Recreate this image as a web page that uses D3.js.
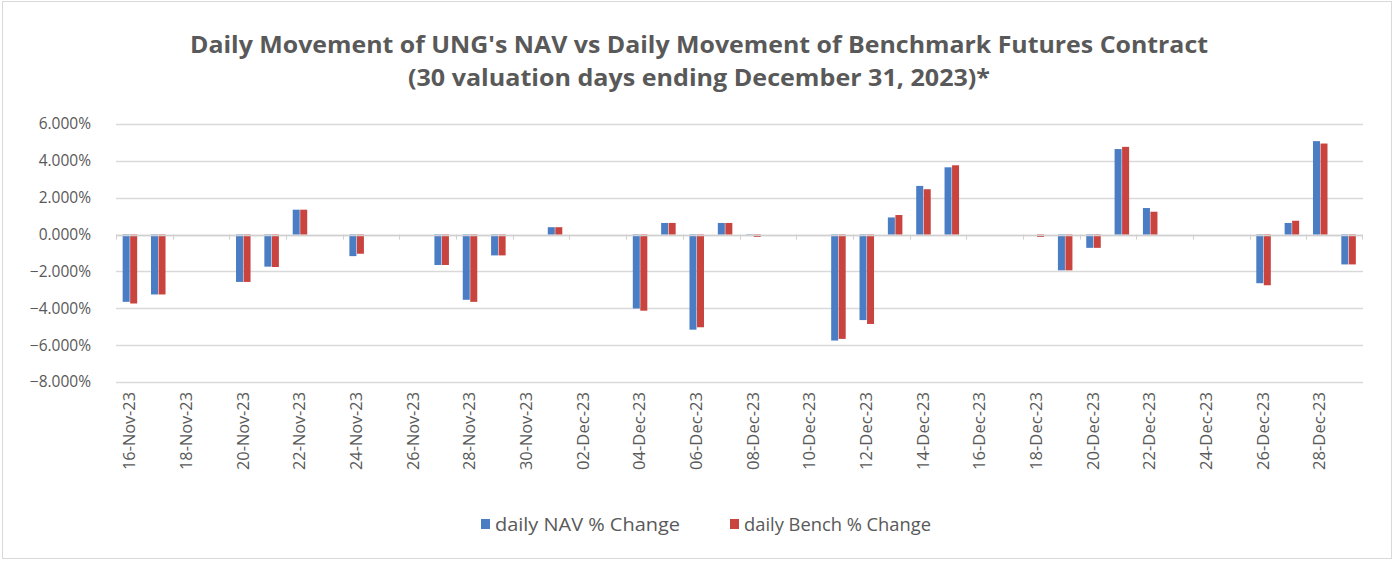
<!DOCTYPE html>
<html>
<head>
<meta charset="utf-8">
<script src="https://cdn.jsdelivr.net/npm/d3@7"></script>
<style>
  body { margin: 0; background: #fff; }
  svg { font-family: "Open Sans", "Liberation Sans", sans-serif; }
</style>
</head>
<body>
<svg></svg>
<script>
// trading days shown in the chart
const DATES = [
    '2023-11-16', '2023-11-17', '2023-11-20', '2023-11-21', '2023-11-22', '2023-11-24',
    '2023-11-27', '2023-11-28', '2023-11-29', '2023-11-30', '2023-12-01', '2023-12-04',
    '2023-12-05', '2023-12-06', '2023-12-07', '2023-12-08', '2023-12-11', '2023-12-12',
    '2023-12-13', '2023-12-14', '2023-12-15', '2023-12-18', '2023-12-19', '2023-12-20',
    '2023-12-21', '2023-12-22', '2023-12-26', '2023-12-27', '2023-12-28', '2023-12-29',
];
const NAV_CHANGE = [
    -3.65, -3.25, -2.57, -1.74, 1.35, -1.17,
    -1.65, -3.54, -1.13, 0.0, 0.40, -4.01,
    0.63, -5.16, 0.63, -0.02, -5.75, -4.64,
    0.93, 2.64, 3.65, 0.0, -1.94, -0.72,
    4.64, 1.44, -2.64, 0.63, 5.07, -1.62,
];
const BENCH_CHANGE = [
    -3.74, -3.25, -2.57, -1.76, 1.35, -1.04,
    -1.65, -3.65, -1.13, 0.0, 0.40, -4.13,
    0.63, -5.03, 0.63, -0.13, -5.66, -4.85,
    1.06, 2.46, 3.76, -0.13, -1.94, -0.72,
    4.76, 1.24, -2.75, 0.75, 4.94, -1.62,
];
const Y_TICKS = [-8, -6, -4, -2, 0, 2, 4, 6];
const SERIES = ['daily NAV % Change', 'daily Bench % Change'];
const COLORS = ['#4a7dc4', '#c9433f'];
const TITLE = [
    "Daily Movement of UNG's NAV vs Daily Movement of Benchmark Futures Contract",
    '(30 valuation days ending December 31, 2023)*',
];

const WIDTH = 1395;
const HEIGHT = 561;
const PLOT = { left: 116, right: 1363, top: 124, bottom: 382 };

const parse = d3.timeParse('%Y-%m-%d');
const fmt = d3.timeFormat('%d-%b-%y');

const rows = DATES.map((d, i) => ({ date: d, values: [NAV_CHANGE[i], BENCH_CHANGE[i]] }));

// Excel date axis: every calendar day gets a slot
const start = parse(DATES[0]);
const end = d3.timeDay.offset(parse(DATES[DATES.length - 1]), 1);
const allDays = d3.timeDay.range(start, end).map(d3.timeFormat('%Y-%m-%d'));

const x = d3.scaleBand().domain(allDays).range([PLOT.left, PLOT.right]);
const pairW = x.bandwidth() * 0.53;
const xSub = d3.scaleBand()
    .domain([0, 1])
    .range([(x.bandwidth() - pairW) / 2, (x.bandwidth() + pairW) / 2]);
const y = d3.scaleLinear().domain([-8, 6]).range([PLOT.bottom, PLOT.top]);

const svg = d3.select('svg').attr('width', WIDTH).attr('height', HEIGHT);

// outer frame
svg.append('rect')
    .attr('x', 2.5).attr('y', 1.5)
    .attr('width', WIDTH - 6).attr('height', HEIGHT - 4)
    .attr('fill', '#fff')
    .attr('stroke', '#d9d9d9');

// fit a text element to a given width (the original used narrow Calibri)
function fitWidth(sel, w) {
    sel.each(function () {
        if (this.getComputedTextLength() > w * 0.9) {
            d3.select(this).attr('textLength', w).attr('lengthAdjust', 'spacingAndGlyphs');
        }
    });
}

// title
const titleWidths = [1018, 582];
TITLE.forEach((t, i) => {
    svg.append('text')
        .attr('x', 699)
        .attr('y', 53 + i * 33)
        .attr('text-anchor', 'middle')
        .attr('font-size', 23)
        .attr('font-weight', 'bold')
        .attr('fill', '#595959')
        .text(t)
        .call(fitWidth, titleWidths[i]);
});

// gridlines
svg.append('g')
    .selectAll('line')
    .data(Y_TICKS)
    .enter()
    .append('line')
    .attr('x1', PLOT.left)
    .attr('x2', PLOT.right)
    .attr('y1', (d) => Math.round(y(d)) + 0.5)
    .attr('y2', (d) => Math.round(y(d)) + 0.5)
    .attr('stroke', '#d9d9d9')
    .attr('stroke-width', 1.3);

// y axis labels
const yAxis = svg.append('g')
    .attr('transform', `translate(${PLOT.left - 22}, 0)`)
    .call(d3.axisLeft(y).tickValues(Y_TICKS).tickSize(0).tickFormat((d) => d3.format('.3f')(d) + '%'));
yAxis.select('.domain').remove();
yAxis.selectAll('text')
    .attr('font-size', 15.5)
    .attr('fill', '#595959')
    .attr('font-family', '"Open Sans", sans-serif');

// bars
const groups = svg.append('g')
    .selectAll('.day')
    .data(rows)
    .enter()
    .append('g')
    .classed('day', true)
    .attr('transform', (d) => `translate(${x(d.date)}, 0)`);

groups.selectAll('rect')
    .data((d) => d.values)
    .enter()
    .append('rect')
    .attr('x', (d, i) => xSub(i))
    .attr('width', xSub.bandwidth() - 0.5)
    .attr('y', (d) => y(Math.max(0, d)))
    .attr('height', (d) => Math.abs(y(d) - y(0)))
    .attr('fill', (d, i) => COLORS[i]);

// category axis through zero, with small tick marks
const ticks2 = allDays.filter((d, i) => i % 2 === 0);
const zeroAxis = svg.append('g');
zeroAxis.append('line')
    .attr('x1', PLOT.left).attr('x2', PLOT.right)
    .attr('y1', Math.round(y(0)) + 0.5).attr('y2', Math.round(y(0)) + 0.5)
    .attr('stroke', '#d0d0d0')
    .attr('stroke-width', 1.3);
zeroAxis.selectAll('.tk')
    .data(ticks2.concat([null]))
    .enter()
    .append('line')
    .attr('x1', (d) => (d ? Math.round(x(d)) + 0.5 : PLOT.right - 0.5))
    .attr('x2', (d) => (d ? Math.round(x(d)) + 0.5 : PLOT.right - 0.5))
    .attr('y1', y(0))
    .attr('y2', y(0) + 5)
    .attr('stroke', '#d0d0d0');

// date labels at the bottom
svg.append('g')
    .selectAll('text')
    .data(ticks2)
    .enter()
    .append('text')
    .attr('transform', (d) => `translate(${x(d) + x.bandwidth() / 2 + 5}, 392) rotate(-90)`)
    .attr('text-anchor', 'end')
    .attr('font-size', 15.5)
    .attr('fill', '#595959')
    .text((d) => fmt(parse(d)))
    .call(fitWidth, 78);

// legend
const legend = svg.append('g');
const legendX = [481, 730];
const legendW = [185, 187];
SERIES.forEach((s, i) => {
    legend.append('rect')
        .attr('x', legendX[i]).attr('y', 519)
        .attr('width', 9).attr('height', 10)
        .attr('fill', COLORS[i]);
    legend.append('text')
        .attr('x', legendX[i] + 14).attr('y', 531)
        .attr('font-size', 18)
        .attr('fill', '#595959')
        .text(s)
        .call(fitWidth, legendW[i]);
});
</script>
</body>
</html>
